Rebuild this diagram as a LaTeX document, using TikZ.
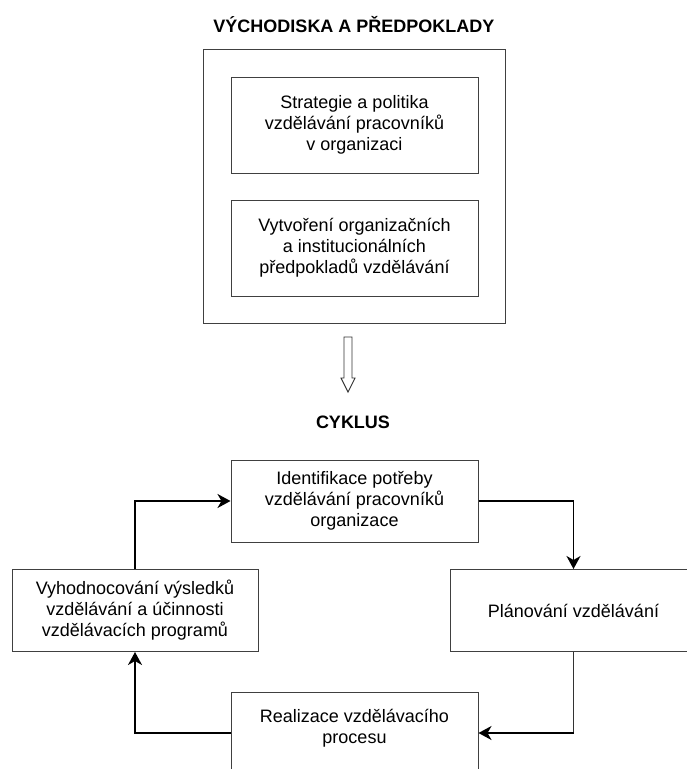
\documentclass[tikz,border=0pt]{standalone}
\usepackage{fontspec}
\setmainfont{Liberation Sans}
\usetikzlibrary{arrows.meta}
\begin{document}
\begin{tikzpicture}[x=1pt,y=-1pt,
  box/.style={draw=black!75, line width=1pt, inner sep=0pt},
  txt/.style={font=\fontsize{18}{21}\selectfont, align=center, inner sep=0pt},
  ttl/.style={font=\bfseries\fontsize{18}{21}\selectfont, inner sep=0pt},
  flow/.style={line width=1.8pt, -{Stealth[length=13pt,width=14pt,inset=4pt]}},
  thinflow/.style={draw=black!80, line width=1.2pt},
  hollow/.style={draw=black!80, line width=0.9pt, fill=white}
]
\useasboundingbox (0,0) rectangle (687,769);
\clip (0,0) rectangle (687,769);

% top part
\node[ttl, anchor=base] (t1) at (354,32) {VÝCHODISKA A PŘEDPOKLADY};
\node[box, minimum width=302, minimum height=274] (outer) at (354,186) {};
\node[box, txt, minimum width=247, minimum height=96] (s1) at (354.5,125)
  {Strategie a politika\\vzdělávání pracovníků\\v organizaci};
\node[box, txt, minimum width=247, minimum height=96] (s2) at (354.5,248)
  {Vytvoření organizačních\\a institucionálních\\předpokladů vzdělávání};

% hollow arrow
\coordinate (ha) at (348,337);
\draw[hollow] (ha) ++(-4,0) -- ++(8,0) -- ++(0,41) -- ++(3,0) -- ++(-7,14)
  -- ++(-7,-14) -- ++(3,0) -- cycle;

% cycle
\node[ttl, anchor=base] (t2) at (353,428) {CYKLUS};

\node[box, txt, minimum width=247, minimum height=82] (top) at (354.5,501)
  {Identifikace potřeby\\vzdělávání pracovníků\\organizace};
\node[box, txt, minimum width=246, minimum height=82] (left) at (135,610.5)
  {Vyhodnocování výsledků\\vzdělávání a účinnosti\\vzdělávacích programů};
\node[box, txt, minimum width=247, minimum height=82] (plan) at (573.5,610.5)
  {Plánování vzdělávání};
\node[box, minimum width=247, minimum height=82] (real) at (354.5,733) {};
\node[txt] (realtext) at (354.5,728.5) {Realizace vzdělávacího\\procesu};

\coordinate (c3) at (plan.south |- real.east);
\draw[flow] (left.north) |- (top.west);
\draw[flow] (top.east) -| (plan.north);
\draw[thinflow] (plan.south) -- (c3);
\draw[flow] (c3) -- (real.east);
\draw[flow] (real.west) -| (left.south);
\end{tikzpicture}
\end{document}
